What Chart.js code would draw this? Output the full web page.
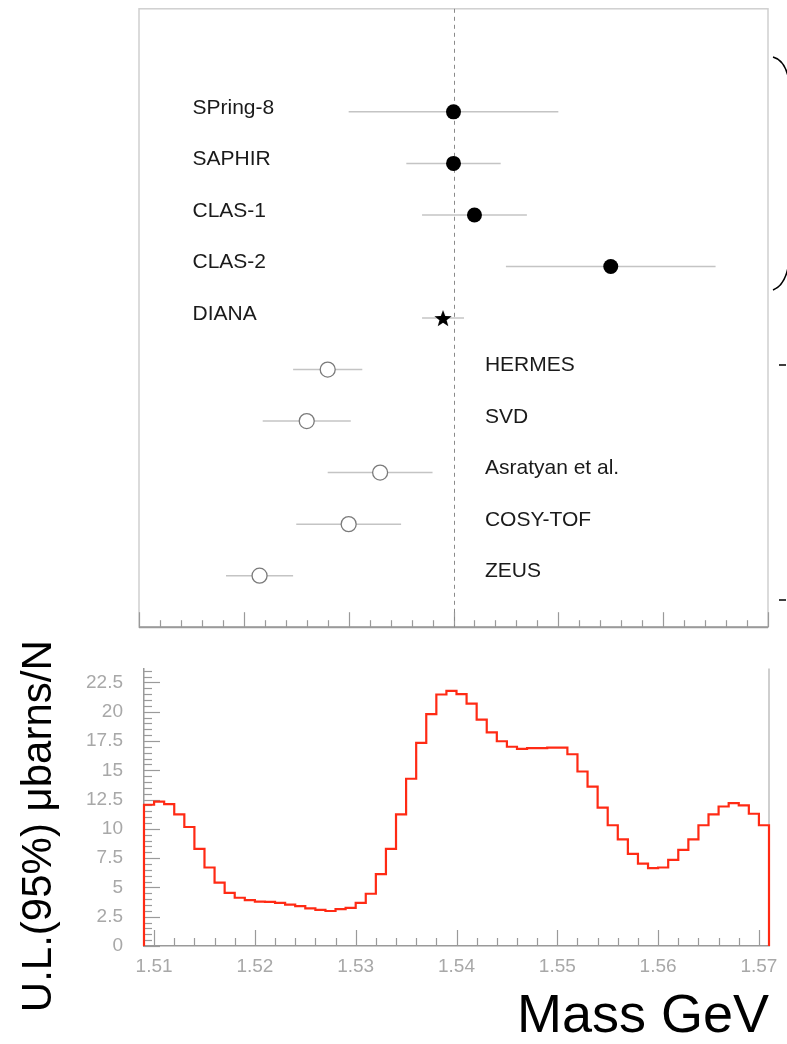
<!DOCTYPE html>
<html>
<head>
<meta charset="utf-8">
<title>Theta+ mass measurements and U.L. scan</title>
<script src="https://cdn.jsdelivr.net/npm/chart.js@4.4.1/dist/chart.umd.min.js"></script>
<style>
  html, body { margin: 0; padding: 0; background: #fff; }
  #wrap { position: relative; width: 787px; height: 1044px; overflow: hidden; }
  #massChart { position: absolute; left: 0; top: 0; }
  #ulChart { position: absolute; left: 0; top: 636px; }
</style>
</head>
<body>
<div id="wrap">
  <canvas id="massChart" width="787" height="636"></canvas>
  <canvas id="ulChart" width="787" height="408"></canvas>
</div>
<script>
/* =============================================
   THETA+ MASS – measurements + 95% U.L. scan
   ============================================= */

/* --- Data: mass measurements (GeV) --- */
const filledExperiments = ['SPring-8', 'SAPHIR', 'CLAS-1', 'CLAS-2'];
const starExperiments = ['DIANA'];
const openExperiments = ['HERMES', 'SVD', 'Asratyan et al.', 'COSY-TOF', 'ZEUS'];
const experiments = [...filledExperiments, ...starExperiments, ...openExperiments];

const massCentral = [1.540, 1.540, 1.542, 1.555, 1.539, 1.528, 1.526, 1.533, 1.530, 1.5215];
const massError   = [0.010, 0.0045, 0.005, 0.010, 0.002, 0.0033, 0.0042, 0.005, 0.005, 0.0032];
const referenceMass = 1.54;

/* --- Data: upper limit histogram --- */
const massTicks = [1.51, 1.52, 1.53, 1.54, 1.55, 1.56, 1.57];
const ulTicks = [0, 2.5, 5, 7.5, 10, 12.5, 15, 17.5, 20, 22.5];
const binStart = 1.509;
const binWidth = 0.001;
const ulValues = [
  12.06, 12.32, 12.12, 11.24, 10.16, 8.30, 6.70, 5.41, 4.54, 4.12,
  3.92, 3.79, 3.76, 3.69, 3.53, 3.40, 3.22, 3.09, 2.99, 3.14,
  3.25, 3.69, 4.46, 6.13, 8.30, 11.24, 14.28, 17.35, 19.80, 21.47,
  21.78, 21.50, 20.70, 19.33, 18.23, 17.48, 17.01, 16.83, 16.89, 16.89,
  16.94, 16.94, 16.37, 14.90, 13.61, 11.81, 10.31, 9.10, 7.86, 7.04,
  6.65, 6.70, 7.35, 8.20, 9.10, 10.31, 11.24, 11.91, 12.19, 12.01,
  11.29, 10.31
];
const ulAxisTitle = 'U.L.(95%) μbarns/N';

Chart.defaults.font.family = "'Liberation Sans', Arial, sans-serif";
Chart.defaults.animation = false;

const LABEL_X_LEFT = 1.5151;
const LABEL_X_RIGHT = 1.5430;

/* --- Helpers --- */
function pointsFor(names) {
  return names.map(n => {
    const i = experiments.indexOf(n);
    return { x: massCentral[i], y: i + 1 };
  });
}

function makeStar(size) {
  const c = document.createElement('canvas');
  c.width = size; c.height = size;
  const g = c.getContext('2d');
  const r = size / 2, ri = r * 0.42;
  g.beginPath();
  for (let k = 0; k < 10; k++) {
    const a = -Math.PI / 2 + k * Math.PI / 5;
    const rr = k % 2 ? ri : r;
    g.lineTo(r + rr * Math.cos(a), r + 1 + rr * Math.sin(a));
  }
  g.closePath();
  g.fillStyle = '#000';
  g.fill();
  return c;
}

/* --- Top panel: frame, ticks, dashed line, labels --- */
const massPanelPlugin = {
  id: 'massPanel',
  beforeDatasetsDraw(chart) {
    const { ctx, chartArea: a, scales: { x, y } } = chart;
    ctx.save();

    // frame
    ctx.strokeStyle = '#cfcfcf';
    ctx.lineWidth = 1.5;
    ctx.strokeRect(a.left, a.top, a.right - a.left, a.bottom - a.top);

    // bottom axis + ticks pointing up
    ctx.strokeStyle = '#9a9a9a';
    ctx.lineWidth = 2;
    ctx.beginPath();
    ctx.moveTo(a.left, a.bottom);
    ctx.lineTo(a.right, a.bottom);
    ctx.stroke();
    ctx.lineWidth = 1.2;
    for (let v = x.min; v <= x.max + 1e-9; v += 0.002) {
      const px = Math.round(x.getPixelForValue(v)) + 0.5;
      const major = Math.abs(v * 100 - Math.round(v * 100)) < 1e-6;
      ctx.beginPath();
      ctx.moveTo(px, a.bottom);
      ctx.lineTo(px, a.bottom - (major ? 15 : 7));
      ctx.stroke();
    }

    // dashed reference line
    const rx = Math.round(x.getPixelForValue(referenceMass)) + 0.5;
    ctx.strokeStyle = '#8a8a8a';
    ctx.lineWidth = 1;
    ctx.setLineDash([4, 4]);
    ctx.beginPath();
    ctx.moveTo(rx, a.top);
    ctx.lineTo(rx, a.bottom);
    ctx.stroke();
    ctx.setLineDash([]);

    // error bars
    ctx.strokeStyle = '#c4c4c4';
    ctx.lineWidth = 1.5;
    experiments.forEach((n, i) => {
      const py = y.getPixelForValue(i + 1);
      ctx.beginPath();
      ctx.moveTo(x.getPixelForValue(massCentral[i] - massError[i]), py);
      ctx.lineTo(x.getPixelForValue(massCentral[i] + massError[i]), py);
      ctx.stroke();
    });

    // experiment labels
    ctx.fillStyle = '#1a1a1a';
    ctx.font = "21px 'Liberation Sans', Arial, sans-serif";
    ctx.textAlign = 'left';
    ctx.textBaseline = 'middle';
    experiments.forEach((n, i) => {
      const lx = openExperiments.includes(n) ? LABEL_X_RIGHT : LABEL_X_LEFT;
      ctx.fillText(n, x.getPixelForValue(lx), y.getPixelForValue(i + 1) - 4);
    });

    ctx.restore();
  },
  afterDraw(chart) {
    // cut-off marks on the right margin
    const { ctx } = chart;
    ctx.save();
    ctx.strokeStyle = '#000';
    ctx.lineWidth = 1.6;
    ctx.beginPath();
    ctx.moveTo(773, 57);
    ctx.quadraticCurveTo(784, 60, 788, 76);
    ctx.moveTo(788, 268);
    ctx.quadraticCurveTo(784, 286, 773, 290);
    ctx.moveTo(779, 365);
    ctx.lineTo(786, 365);
    ctx.moveTo(779, 600);
    ctx.lineTo(786, 600);
    ctx.stroke();
    ctx.restore();
  }
};

function initMassChart() {
  const canvas = document.getElementById('massChart');
  new Chart(canvas, {
    type: 'scatter',
    data: {
      datasets: [
        {
          label: 'filled',
          data: pointsFor(filledExperiments),
          pointStyle: 'circle',
          pointRadius: 7.5,
          backgroundColor: '#000',
          borderColor: '#000',
          borderWidth: 0
        },
        {
          label: 'star',
          data: pointsFor(starExperiments),
          pointStyle: makeStar(18)
        },
        {
          label: 'open',
          data: pointsFor(openExperiments),
          pointStyle: 'circle',
          pointRadius: 7.5,
          backgroundColor: '#fff',
          borderColor: '#7a7a7a',
          borderWidth: 1.3
        }
      ]
    },
    options: {
      responsive: false,
      clip: false,
      layout: { padding: { left: 139, top: 7, right: 19, bottom: 4 } },
      plugins: { legend: { display: false }, tooltip: { enabled: false } },
      scales: {
        x: { type: 'linear', display: false, min: 1.51, max: 1.57 },
        y: { type: 'linear', display: false, min: -1, max: 11, reverse: true }
      }
    },
    plugins: [massPanelPlugin]
  });
}

/* --- Bottom panel: inner ticks, right border, rotated y title --- */
const ulPanelPlugin = {
  id: 'ulPanel',
  beforeDatasetsDraw(chart) {
    const { ctx, chartArea: a, scales: { x, y } } = chart;
    ctx.save();
    ctx.strokeStyle = '#9a9a9a';
    ctx.lineWidth = 1.2;

    for (let v = 1.51; v <= x.max + 1e-9; v += 0.002) {
      const px = Math.round(x.getPixelForValue(v)) + 0.5;
      const major = Math.abs(v * 100 - Math.round(v * 100)) < 1e-6;
      ctx.beginPath();
      ctx.moveTo(px, a.bottom);
      ctx.lineTo(px, a.bottom - (major ? 16 : 8));
      ctx.stroke();
    }
    for (let v = 0; v <= y.max + 1e-9; v += 0.5) {
      const py = Math.round(y.getPixelForValue(v)) + 0.5;
      const major = Math.abs(v / 2.5 - Math.round(v / 2.5)) < 1e-6;
      ctx.beginPath();
      ctx.moveTo(a.left, py);
      ctx.lineTo(a.left + (major ? 16 : 8), py);
      ctx.stroke();
    }

    ctx.strokeStyle = '#cfcfcf';
    ctx.lineWidth = 2;
    ctx.beginPath();
    ctx.moveTo(a.right, a.top);
    ctx.lineTo(a.right, a.bottom);
    ctx.stroke();
    ctx.restore();
  },
  afterDraw(chart) {
    // y title sits a little below the plot centre in the original
    const { ctx, chartArea: a } = chart;
    ctx.save();
    ctx.translate(39, (a.top + a.bottom) / 2 + 19);
    ctx.rotate(-Math.PI / 2);
    ctx.fillStyle = '#000';
    ctx.font = "42px 'Liberation Sans', Arial, sans-serif";
    ctx.textAlign = 'center';
    ctx.textBaseline = 'middle';
    ctx.fillText(ulAxisTitle, 0, 0);
    ctx.restore();
  }
};

function initUlChart() {
  const canvas = document.getElementById('ulChart');
  const binEnd = binStart + ulValues.length * binWidth;

  // step outline: rise at the first edge, one point per bin right edge, drop at the end
  const outline = [{ x: binStart, y: 0 }];
  ulValues.forEach((v, i) => outline.push({ x: binStart + (i + 1) * binWidth, y: v }));
  outline.push({ x: binEnd, y: 0 });

  new Chart(canvas, {
    type: 'line',
    data: {
      datasets: [{
        label: 'U.L.',
        data: outline,
        stepped: 'after',
        borderColor: '#ff2a14',
        borderWidth: 2.2,
        pointRadius: 0,
        fill: false,
        clip: false
      }]
    },
    options: {
      responsive: false,
      layout: { padding: { left: 0, top: 4, right: 18, bottom: 0 } },
      plugins: { legend: { display: false }, tooltip: { enabled: false } },
      scales: {
        x: {
          type: 'linear',
          min: binStart,
          max: binEnd,
          afterBuildTicks: s => { s.ticks = massTicks.map(v => ({ value: v })); },
          afterFit: s => { s.height = 98; },
          grid: { display: false, drawTicks: false },
          border: { color: '#9a9a9a', width: 1.5 },
          ticks: {
            color: '#a8a8a8',
            font: { size: 19 },
            padding: 9,
            maxRotation: 0,
            autoSkip: false,
            callback: v => String(v)
          },
          title: {
            display: true,
            text: 'Mass GeV',
            align: 'end',
            color: '#000',
            font: { size: 54, lineHeight: 1 },
            padding: { top: -4, bottom: 0 }
          }
        },
        y: {
          type: 'linear',
          min: 0,
          max: 23.7,
          afterBuildTicks: s => { s.ticks = ulTicks.map(v => ({ value: v })); },
          afterFit: s => { s.width = 144; },
          grid: { display: false, drawTicks: false },
          border: { color: '#9a9a9a', width: 1.5 },
          ticks: {
            color: '#a8a8a8',
            font: { size: 19 },
            padding: 21,
            callback: v => String(v)
          }
        }
      }
    },
    plugins: [ulPanelPlugin]
  });
}

/* --- Init --- */
window.addEventListener('load', () => {
  initMassChart();
  initUlChart();
});
</script>
</body>
</html>
